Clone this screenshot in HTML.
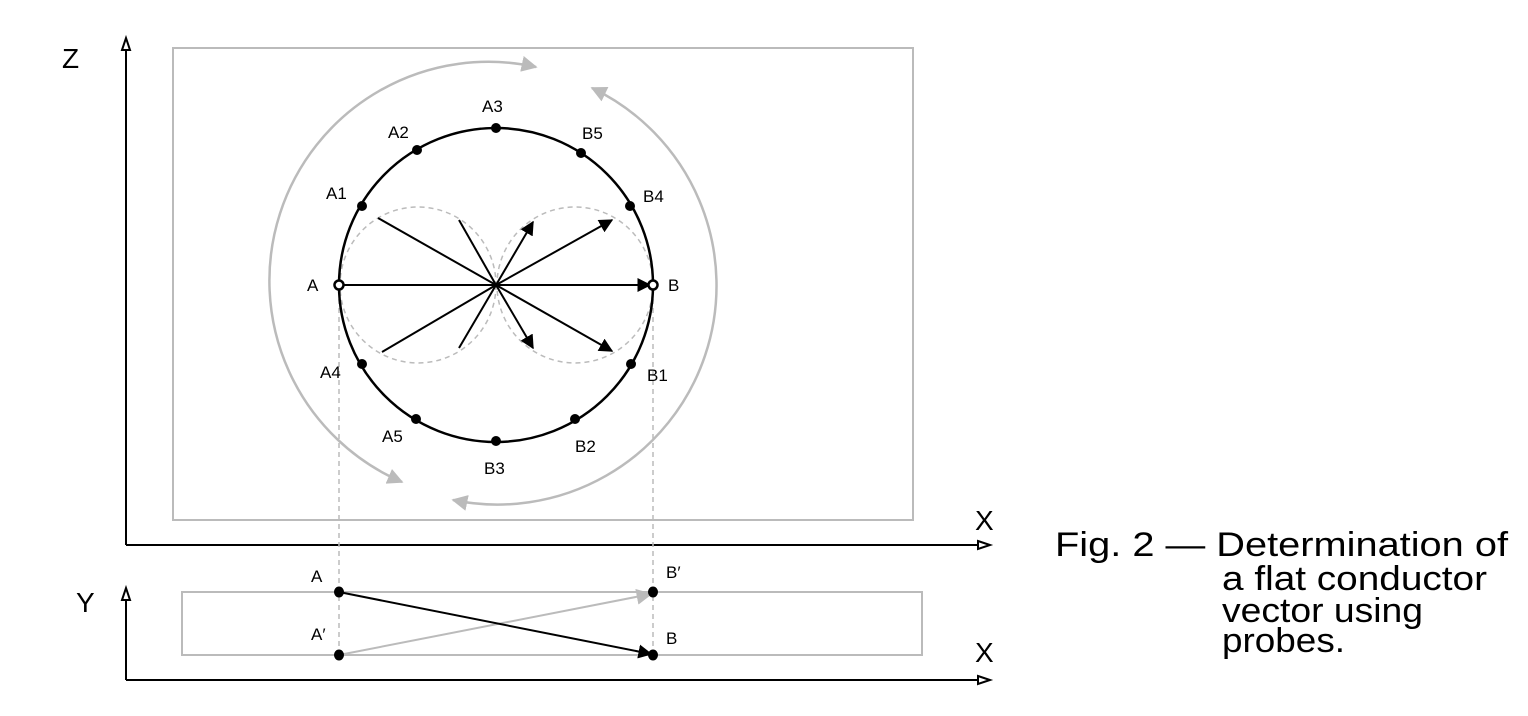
<!DOCTYPE html>
<html><head><meta charset="utf-8"><style>
html,body{margin:0;padding:0;background:#fff;}
svg{display:block;}
text{font-family:"Liberation Sans",sans-serif;}
</style></head><body>
<svg width="1528" height="716" viewBox="0 0 1528 716" xmlns="http://www.w3.org/2000/svg">
<defs>
<marker id="ab" viewBox="0 0 10 10" refX="9" refY="5" markerWidth="14" markerHeight="14" markerUnits="userSpaceOnUse" orient="auto"><path d="M0,0 L10,5 L0,10 z" fill="#000"/></marker>
<marker id="ag" viewBox="0 0 10 10" refX="9" refY="5" markerWidth="16" markerHeight="16" markerUnits="userSpaceOnUse" orient="auto"><path d="M0,0 L10,5 L0,10 z" fill="#bbb"/></marker>
<marker id="ags" viewBox="0 0 10 10" refX="1" refY="5" markerWidth="16" markerHeight="16" markerUnits="userSpaceOnUse" orient="auto"><path d="M10,0 L0,5 L10,10 z" fill="#bbb"/></marker>
</defs>
<rect x="173" y="48" width="740" height="472" fill="none" stroke="#bbb" stroke-width="2"/>
<rect x="182" y="592" width="740" height="63" fill="none" stroke="#bbb" stroke-width="2"/>
<g stroke="#000" stroke-width="2" fill="#fff">
<line x1="126" y1="50" x2="126" y2="545"/>
<line x1="126" y1="545" x2="978" y2="545"/>
<path d="M122,50 L126,38 L130,50 Z"/>
<path d="M978,541 L990,545 L978,549 Z"/>
<line x1="126" y1="600" x2="126" y2="680"/>
<line x1="126" y1="680" x2="978" y2="680"/>
<path d="M122,600 L126,588 L130,600 Z"/>
<path d="M978,676 L990,680 L978,684 Z"/>
</g>
<g font-size="28" fill="#000">
<text x="62" y="68">Z</text>
<text x="975" y="530">X</text>
<text x="76" y="612">Y</text>
<text x="975" y="662">X</text>
</g>
<path d="M402,482 A219,219 0 0 1 536,67" fill="none" stroke="#bbb" stroke-width="2.5" marker-end="url(#ag)" marker-start="url(#ags)"/>
<path d="M592,88 A219,219 0 0 1 453,500" fill="none" stroke="#bbb" stroke-width="2.5" marker-end="url(#ag)" marker-start="url(#ags)"/>
<circle cx="418" cy="285" r="78" fill="none" stroke="#bbb" stroke-width="1.5" stroke-dasharray="5,4"/>
<circle cx="575" cy="285" r="78" fill="none" stroke="#bbb" stroke-width="1.5" stroke-dasharray="5,4"/>
<line x1="339" y1="290" x2="339" y2="655" stroke="#bbb" stroke-width="1.5" stroke-dasharray="5,4"/>
<line x1="653" y1="290" x2="653" y2="655" stroke="#bbb" stroke-width="1.5" stroke-dasharray="5,4"/>
<circle cx="496" cy="285" r="157" fill="none" stroke="#000" stroke-width="2.5"/>
<g stroke="#000" stroke-width="2" fill="none">
<line x1="339" y1="285" x2="650" y2="285" marker-end="url(#ab)"/>
<line x1="496" y1="285" x2="612" y2="220" marker-end="url(#ab)"/>
<line x1="496" y1="285" x2="533" y2="222" marker-end="url(#ab)"/>
<line x1="496" y1="285" x2="533" y2="348" marker-end="url(#ab)"/>
<line x1="496" y1="285" x2="612" y2="351" marker-end="url(#ab)"/>
<line x1="496" y1="285" x2="378" y2="218"/>
<line x1="496" y1="285" x2="459" y2="220"/>
<line x1="496" y1="285" x2="382" y2="352"/>
<line x1="496" y1="285" x2="459" y2="348"/>
</g>
<g fill="#000">
<circle cx="417" cy="150" r="5"/><circle cx="362" cy="206" r="5"/>
<circle cx="496" cy="128" r="5"/><circle cx="581" cy="153" r="5"/>
<circle cx="630" cy="206" r="5"/><circle cx="362" cy="364" r="5"/>
<circle cx="416" cy="419" r="5"/><circle cx="496" cy="441" r="5"/>
<circle cx="575" cy="419" r="5"/><circle cx="631" cy="364" r="5"/>
</g>
<circle cx="339" cy="285" r="4.5" fill="#fff" stroke="#000" stroke-width="2.5"/>
<circle cx="653" cy="285" r="4.5" fill="#fff" stroke="#000" stroke-width="2.5"/>
<g font-size="17" fill="#000">
<text x="482" y="112">A3</text>
<text x="388" y="138">A2</text>
<text x="582" y="139">B5</text>
<text x="326" y="199">A1</text>
<text x="643" y="202">B4</text>
<text x="307" y="291">A</text>
<text x="668" y="291">B</text>
<text x="320" y="378">A4</text>
<text x="647" y="381">B1</text>
<text x="382" y="442">A5</text>
<text x="575" y="452">B2</text>
<text x="484" y="474">B3</text>
</g>
<line x1="339" y1="655" x2="651" y2="594" stroke="#bbb" stroke-width="2" marker-end="url(#ag)"/>
<line x1="339" y1="592" x2="651" y2="654" stroke="#000" stroke-width="2" marker-end="url(#ab)"/>
<g fill="#000">
<ellipse cx="339" cy="592" rx="5" ry="5.5"/><ellipse cx="653" cy="592" rx="5" ry="5.5"/>
<ellipse cx="339" cy="655" rx="5" ry="5.5"/><ellipse cx="653" cy="655" rx="5" ry="5.5"/>
</g>
<g font-size="17" fill="#000">
<text x="311" y="582">A</text>
<text x="666" y="578">B′</text>
<text x="311" y="640">A′</text>
<text x="666" y="644">B</text>
</g>
<g font-size="34" fill="#000">
<text x="1055" y="556" textLength="453" lengthAdjust="spacingAndGlyphs">Fig. 2 — Determination of</text>
<text x="1222" y="590" textLength="265" lengthAdjust="spacingAndGlyphs">a flat conductor</text>
<text x="1222" y="622" textLength="201" lengthAdjust="spacingAndGlyphs">vector using</text>
<text x="1222" y="652" textLength="123" lengthAdjust="spacingAndGlyphs">probes.</text>
</g>
</svg>
</body></html>
